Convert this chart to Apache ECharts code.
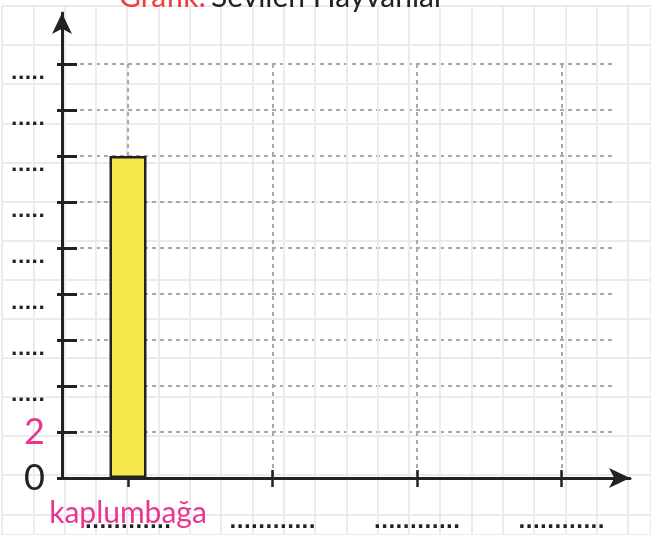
<!DOCTYPE html>
<html>
<head>
<meta charset="utf-8">
<script src="https://cdn.jsdelivr.net/npm/echarts@6.0.0/dist/echarts.min.js"></script>
<style>
  html, body { margin: 0; padding: 0; background: #fff; }
  #chart { width: 651px; height: 535px; }
</style>
</head>
<body>
<div id="chart"></div>
<script>
// Grafik verisi
const categories = ['kaplumbağa', '', '', ''];
const values = [14, '-', '-', '-'];
const yMax = 18;
const yStep = 2;
const yKnownLabels = { 0: '0', 2: '2' };
const yBlank = '.....';
const xBlank = '............';

const ink = '#222222';
const pink = '#e8368f';
const dash = { color: '#a8a8a8', width: 2, type: [4, 4] };
const off = { show: false };

const chart = echarts.init(document.getElementById('chart'));

const option = {
  animation: false,
  title: {
    left: 114,
    top: -23,
    text: '{r|Grafik:} {b|Sevilen Hayvanlar}',
    textStyle: {
      rich: {
        r: { color: '#f03c3c', fontSize: 30, fontFamily: 'Lato', fontWeight: 'normal' },
        b: { color: ink, fontSize: 30, fontFamily: 'Lato', fontWeight: 'normal' }
      }
    }
  },
  grid: [
    { left: 2, right: 0, top: 6, bottom: 0 },          // 0 kareli arka plan
    { left: 80, right: 36, top: 64, bottom: 57 },      // 1 yatay kesikli çizgiler
    { left: 57, right: 500, top: 64, bottom: 57 },     // 2 y çentikleri ve etiketleri
    { left: 128, right: 89.5, top: 64, bottom: 57 },   // 3 sütunlar
    { left: 128, right: 89.5, top: 64, bottom: 48 },   // 4 x çentikleri ve etiketleri
    { left: 62, right: 21, top: 13, bottom: 57 }       // 5 oklu eksenler
  ],
  xAxis: [
    {
      gridIndex: 0, type: 'value', min: 0, max: 649, interval: 31.3,
      axisLine: off, axisTick: off, axisLabel: off,
      splitLine: { lineStyle: { color: '#ebebeb', width: 2 } }
    },
    { gridIndex: 1, type: 'value', show: false },
    { gridIndex: 2, type: 'value', show: false },
    {
      gridIndex: 3, type: 'category', data: categories, boundaryGap: false,
      axisLine: off, axisTick: off, axisLabel: off,
      splitLine: { show: true, lineStyle: dash }
    },
    {
      gridIndex: 4, type: 'category', data: categories, boundaryGap: false, position: 'bottom',
      axisLine: off,
      axisTick: { inside: true, length: 17, lineStyle: { color: ink, width: 2.5 } },
      axisLabel: {
        margin: 27, interval: 0,
        formatter: () => xBlank,
        color: ink, fontSize: 19, fontWeight: 'bold', fontFamily: 'DejaVu Sans'
      },
      splitLine: off
    },
    {
      gridIndex: 4, type: 'category', data: categories, boundaryGap: false, position: 'bottom',
      axisLine: off, axisTick: off, splitLine: off,
      axisLabel: {
        margin: 11, interval: 0,
        formatter: (v, i) => (i === 0 ? v : ''),
        color: pink, fontSize: 30, fontFamily: 'Lato'
      }
    },
    {
      gridIndex: 5, type: 'value', min: 0, max: 1, z: 10,
      axisLine: { symbol: ['none', 'arrow'], symbolSize: [15, 21], lineStyle: { color: ink, width: 3 } },
      axisTick: off, axisLabel: off, splitLine: off
    }
  ],
  yAxis: [
    {
      gridIndex: 0, type: 'value', inverse: true, min: 0, max: 529, interval: 39.1,
      axisLine: off, axisTick: off, axisLabel: off,
      splitLine: { lineStyle: { color: '#ebebeb', width: 2 } }
    },
    {
      gridIndex: 1, type: 'value', min: 0, max: yMax, interval: yStep,
      axisLine: off, axisTick: off, axisLabel: off,
      splitLine: { show: true, lineStyle: dash }
    },
    {
      gridIndex: 2, type: 'value', min: 0, max: yMax, interval: yStep,
      axisLine: off,
      axisTick: { inside: true, length: 20, lineStyle: { color: ink, width: 3 } },
      axisLabel: {
        margin: 12,
        formatter: (v) => {
          if (v === 0) return '{z|' + yKnownLabels[0] + '}';
          if (yKnownLabels[v] !== undefined) return '{n|' + yKnownLabels[v] + '}';
          return '{d|' + yBlank + '}';
        },
        rich: {
          z: { color: ink, fontSize: 36, fontFamily: 'Lato' },
          n: { color: pink, fontSize: 36, fontFamily: 'Lato' },
          d: { color: ink, fontSize: 18, fontWeight: 'bold', fontFamily: 'DejaVu Sans', padding: [20, 0, 0, 0] }
        }
      },
      splitLine: off
    },
    { gridIndex: 3, type: 'value', min: 0, max: yMax, show: false },
    { gridIndex: 4, type: 'value', min: 0, max: yMax, show: false },
    {
      gridIndex: 5, type: 'value', min: 0, max: 1, z: 10,
      axisLine: { symbol: ['none', 'arrow'], symbolSize: [15, 21], lineStyle: { color: ink, width: 3 } },
      axisTick: off, axisLabel: off, splitLine: off
    }
  ],
  series: [
    {
      type: 'bar',
      xAxisIndex: 3,
      yAxisIndex: 3,
      data: values,
      barWidth: 37,
      clip: false,
      itemStyle: { color: '#f6e84c', borderColor: ink, borderWidth: 2.5 }
    }
  ]
};

chart.setOption(option);
</script>
</body>
</html>
